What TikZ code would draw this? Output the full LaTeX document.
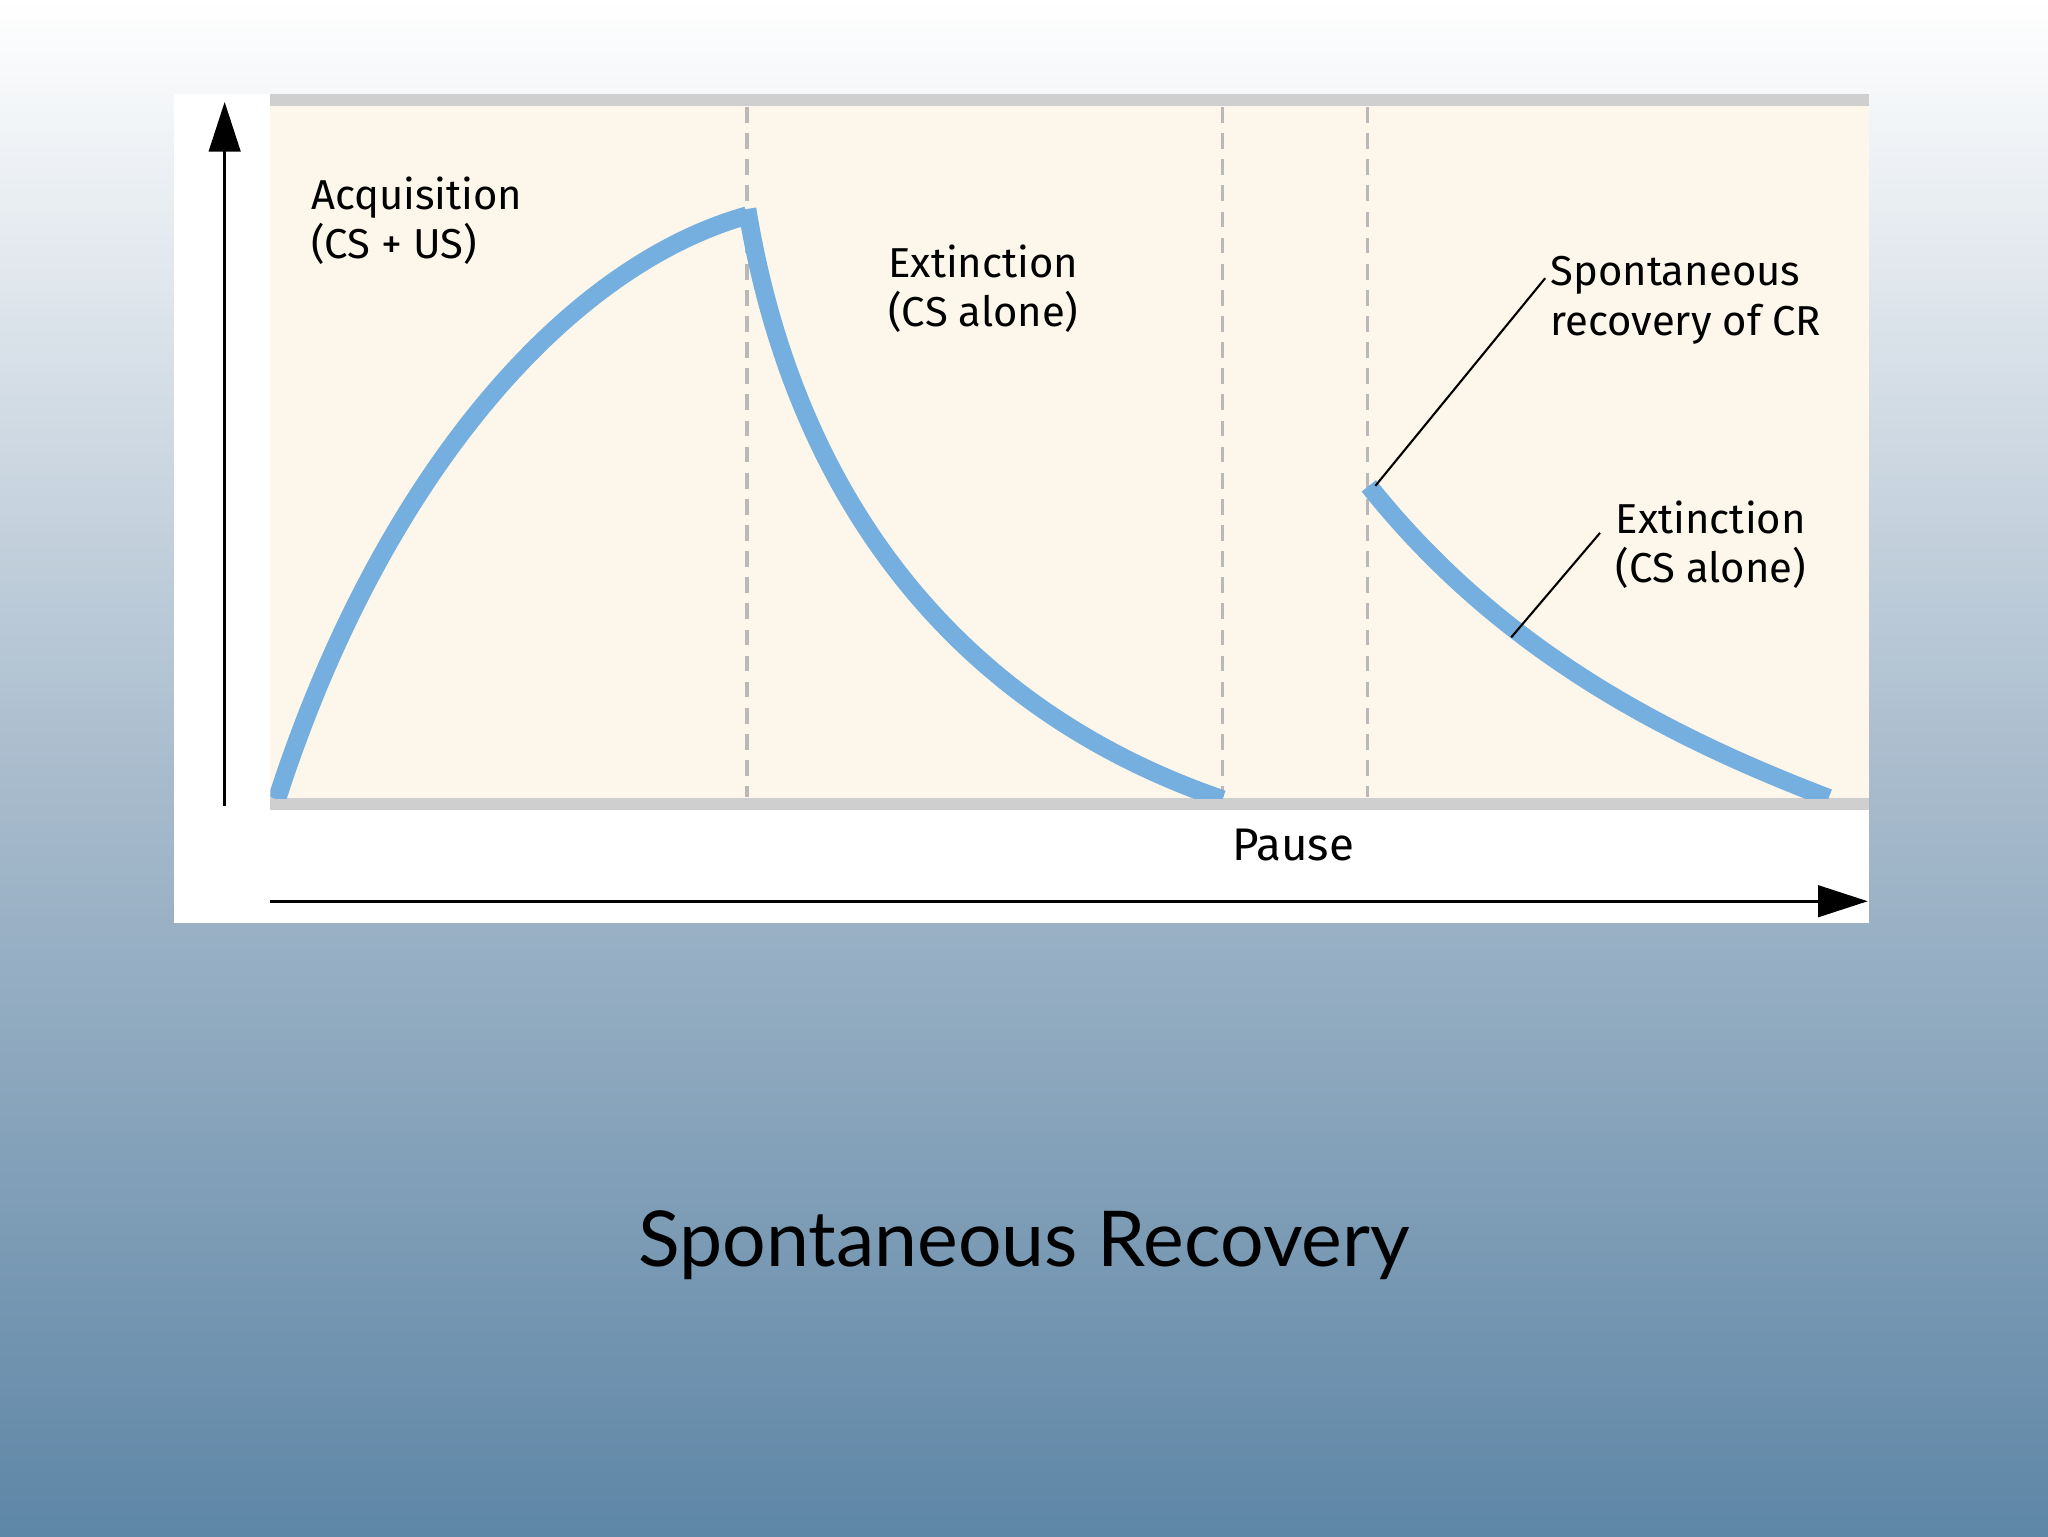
\documentclass[tikz,border=0pt]{standalone}
\usepackage{fontspec}
\setmainfont{Fira Sans}
\newfontfamily\titlefont{Lato}
\usetikzlibrary{arrows.meta}
\definecolor{cream}{HTML}{FDF6EA}
\definecolor{curve}{HTML}{74AFE0}
\definecolor{barg}{HTML}{CFCFCF}
\definecolor{bgbot}{RGB}{94,134,166}
\definecolor{bgmid}{RGB}{169,188,205}
\tikzset{
 lbl/.style={anchor=north west,align=left,font=\fontsize{32}{38}\selectfont,inner sep=0},
 dash line/.style={draw=gray!55,dash pattern=on 12pt off 8pt,line width=2.5pt},
 crv/.style={draw=curve,line width=14pt},
 axis/.style={line width=2.5pt,-{Triangle[length=38pt,width=24pt]}},
 leader/.style={line width=1.6pt}
}
\begin{document}
\begin{tikzpicture}[x=1pt,y=-1pt]
\useasboundingbox (0,0) rectangle (1568,1176);
\shade[top color=white,bottom color=bgbot,middle color=bgmid] (0,0) rectangle (1568,1176);
\fill[white] (133,72) rectangle (1431,707);
\fill[cream] (207,72) rectangle (1431,620);
\fill[barg] (207,72) rectangle (1431,81);
\fill[barg] (207,611) rectangle (1431,620);
\foreach \x in {572,936,1047}{\draw[dash line] (\x,82) -- (\x,610);}
\begin{scope}
\clip (207,81) rectangle (1431,611);
\draw[crv] (212,612) .. controls (290,370) and (430,205) .. (572,165);
\draw[crv,line join=miter] (572,160) .. controls (610,390) and (740,545) .. (936,612);
\draw[crv] (1048,372) .. controls (1150,500) and (1280,565) .. (1400,611);
\end{scope}
\coordinate (yb) at (172,617); \coordinate (yt) at (172,78);
\coordinate (xl) at (207,690); \coordinate (xr) at (1430,690);
\draw[axis] (yb) -- (yt);
\draw[axis] (xl) -- (xr);
\node[lbl] (acq) at (238,135) {Acquisition\\(CS + US)};
\node[lbl] (ext1) at (680,187) {Extinction\\(CS alone)};
\node[lbl] (spon) at (1187,196) {Spontaneous\\recovery of CR};
\node[lbl] (ext2) at (1237,383) {Extinction\\(CS alone)};
\node[font=\fontsize{35}{40}\selectfont] (pause) at (990,647) {Pause};
\coordinate (s1) at (1183,213); \coordinate (s2) at (1225,408);
\coordinate (p1) at (1053,372); \coordinate (p2) at (1157,488);
\draw[leader] (s1) -- (p1);
\draw[leader] (s2) -- (p2);
\node[font=\titlefont\fontsize{59}{66}\selectfont] (title) at (784,953) {Spontaneous Recovery};
\end{tikzpicture}
\end{document}
